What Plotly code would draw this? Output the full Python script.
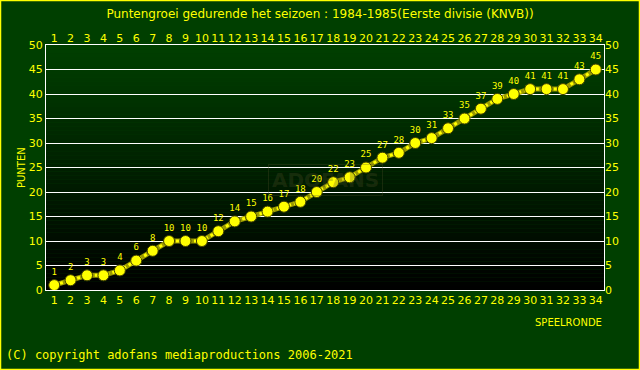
import plotly.graph_objects as go

rounds = list(range(1, 35))
points = [1, 2, 3, 3, 4, 6, 8, 10, 10, 10, 12, 14, 15, 16, 17, 18, 20, 22, 23, 25,
          27, 28, 30, 31, 33, 35, 37, 39, 40, 41, 41, 41, 43, 45]
y_ticks = list(range(0, 51, 5))
title = "Puntengroei gedurende het seizoen : 1984-1985(Eerste divisie (KNVB))"

YEL = "#ffff00"
fig = go.Figure()

# gradient background of plot area
n = 60
shapes = []
for i in range(n):
    f = (i + 0.5) / n
    g = int(round(64 * f))
    shapes.append(dict(type="rect", xref="paper", yref="paper", x0=0, x1=1,
                       y0=i / n, y1=(i + 1) / n, layer="below", line=dict(width=0),
                       fillcolor=f"rgb(0,{g},0)"))
# outer border
shapes.append(dict(type="rect", xref="paper", yref="paper", x0=-45.5/558, x1=1+35.5/558,
                   y0=-79.5/245, y1=1+44.5/245, line=dict(color=YEL, width=1.5), layer="above"))

fig.add_trace(go.Scatter(x=rounds, y=points, mode="lines",
                         line=dict(color="#9a9a00", width=5), hoverinfo="skip", showlegend=False))
fig.add_trace(go.Scatter(x=rounds, y=points, mode="lines+markers+text",
                         line=dict(color=YEL, width=3, dash="dot"),
                         marker=dict(color=YEL, size=11, line=dict(color="#404000", width=1)),
                         text=[str(v) for v in points], textposition="top center",
                         textfont=dict(color=YEL, size=9, family="DejaVu Sans Mono"),
                         showlegend=False))
# helper traces for top/right axes
fig.add_trace(go.Scatter(x=rounds, y=points, xaxis="x2", yaxis="y2", mode="markers",
                         marker=dict(opacity=0), hoverinfo="skip", showlegend=False))

tickfont = dict(color=YEL, size=11, family="DejaVu Sans")
fig.update_layout(
    width=640, height=370,
    margin=dict(l=46, r=36, t=45, b=80),
    paper_bgcolor="#003f00",
    plot_bgcolor="rgba(0,0,0,0)",
    shapes=shapes,
    title=dict(text=title, x=0.5, xanchor="center", y=0.975, yanchor="top",
               font=dict(color=YEL, size=12, family="DejaVu Sans")),
    xaxis=dict(range=[0.5, 34.5], tickvals=rounds, ticktext=[str(r) for r in rounds],
               tickfont=tickfont, showgrid=False, zeroline=False,
               showline=True, linecolor="white", linewidth=1, mirror=True, ticks=""),
    xaxis2=dict(range=[0.5, 34.5], tickvals=rounds, overlaying="x", side="top",
                tickfont=tickfont, showgrid=False, zeroline=False, ticks=""),
    yaxis=dict(range=[0, 50], tickvals=y_ticks, tickfont=tickfont,
               showgrid=True, gridcolor="white", gridwidth=1, zeroline=False,
               showline=True, linecolor="white", linewidth=1, mirror=True, ticks=""),
    yaxis2=dict(range=[0, 50], tickvals=y_ticks, overlaying="y", side="right",
                tickfont=tickfont, showgrid=False, zeroline=False, ticks=""),
    annotations=[
        dict(text="PUNTEN", xref="paper", yref="paper", x=-32/558, y=0.5, textangle=-90,
             showarrow=False, font=dict(color=YEL, size=10, family="DejaVu Sans")),
        dict(text="SPEELRONDE", xref="paper", yref="paper", x=1.0, xanchor="right",
             y=-32/245, yanchor="middle", showarrow=False,
             font=dict(color=YEL, size=10, family="DejaVu Sans")),
        dict(text="(C) copyright adofans mediaproductions 2006-2021", xref="paper", yref="paper",
             x=-42/558, xanchor="left", y=-65/245, yanchor="middle", showarrow=False,
             font=dict(color=YEL, size=12, family="DejaVu Sans Mono")),
        dict(text="<b>ADOFANS</b>", xref="paper", yref="paper", x=0.5, y=0.45,
             showarrow=False, font=dict(color="rgba(80,80,40,0.3)", size=20, family="DejaVu Sans"),
             bordercolor="rgba(80,80,40,0.3)", borderwidth=1, borderpad=3),
    ],
)
fig.write_html("out.html", config={"displayModeBar": False},
               post_script="document.body.style.margin='0px';")
